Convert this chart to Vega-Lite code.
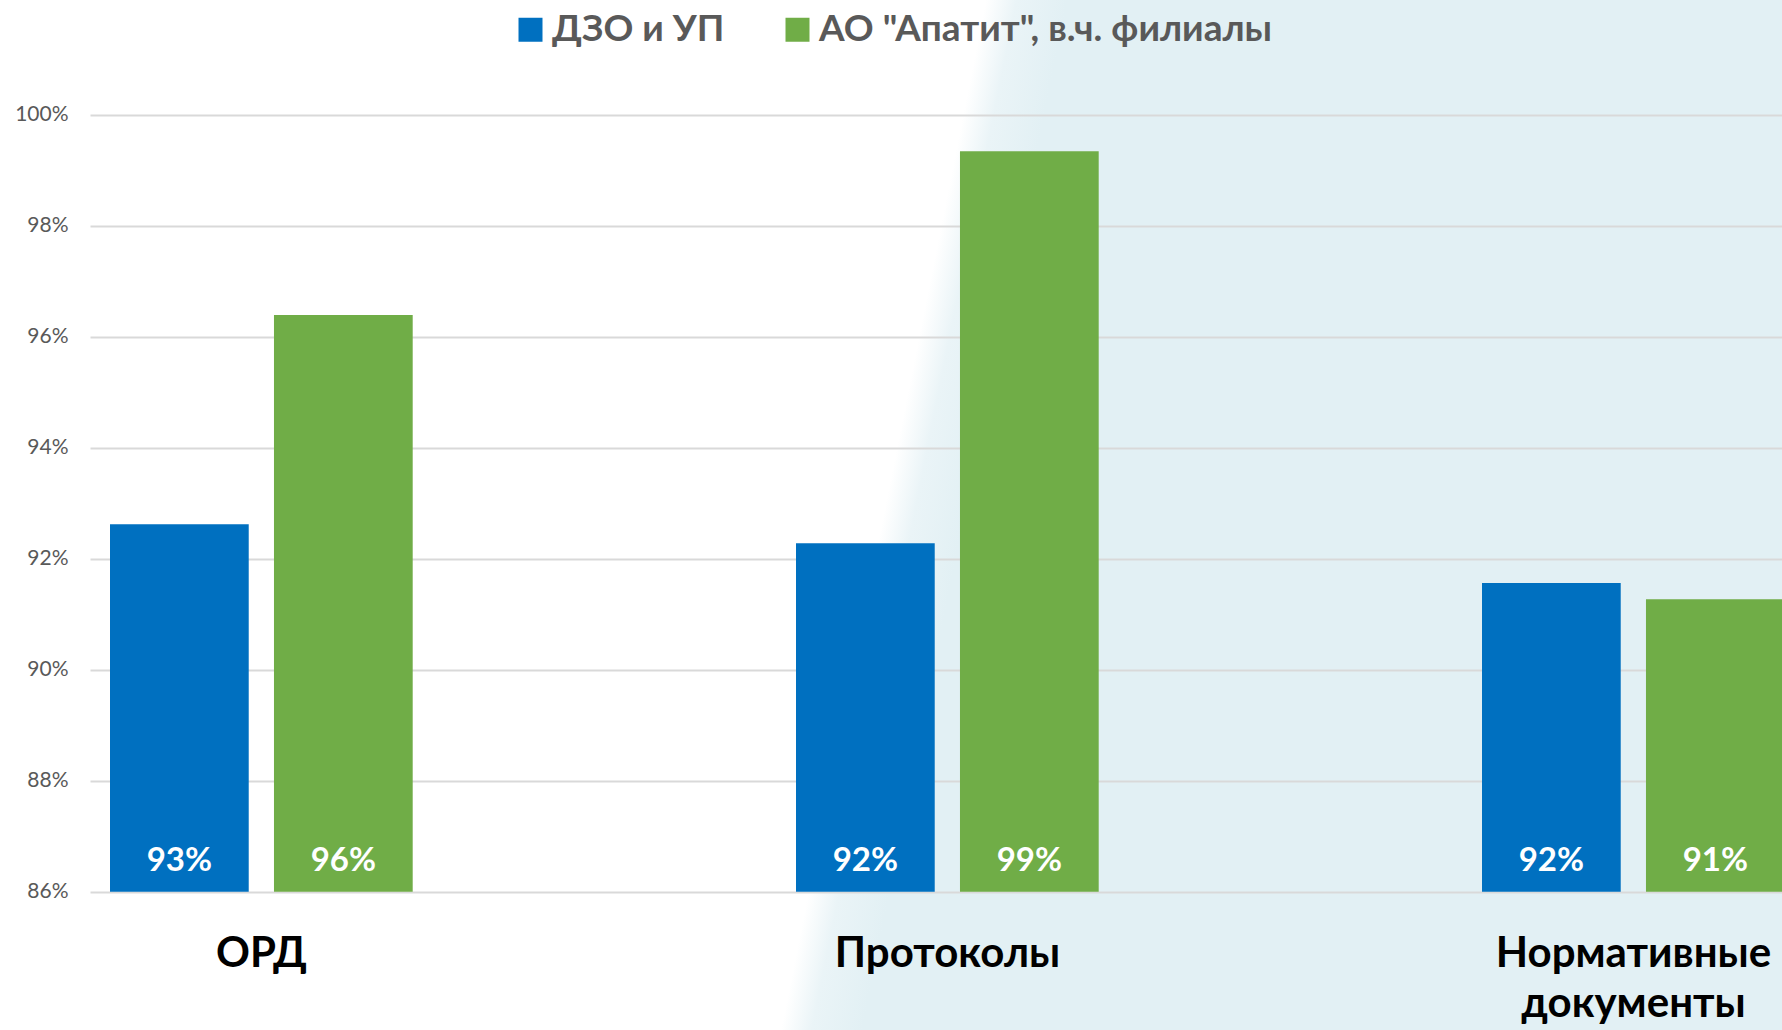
{
  "$schema": "https://vega.github.io/schema/vega-lite/v6.json",
  "width": 1782,
  "height": 1030,
  "autosize": {"type": "none"},
  "padding": 0,
  "background": "#FFFFFF",
  "view": {
    "stroke": null,
    "fill": {
      "gradient": "linear",
      "x1": 0, "y1": 0.45, "x2": 1, "y2": 0.565,
      "stops": [
        {"offset": 0, "color": "#FFFFFF"},
        {"offset": 0.495, "color": "#FFFFFF"},
        {"offset": 0.512, "color": "#EAF4F7"},
        {"offset": 0.54, "color": "#E2F0F4"},
        {"offset": 1, "color": "#E2F0F4"}
      ]
    }
  },
  "config": {"font": "Lato"},
  "data": {
    "values": [
      {"category": "ОРД", "series": "ДЗО и УП", "value": 0.9262},
      {"category": "ОРД", "series": "АО \"Апатит\", в.ч. филиалы", "value": 0.9639},
      {"category": "Протоколы", "series": "ДЗО и УП", "value": 0.9228},
      {"category": "Протоколы", "series": "АО \"Апатит\", в.ч. филиалы", "value": 0.9934},
      {"category": "Нормативные документы", "series": "ДЗО и УП", "value": 0.9156},
      {"category": "Нормативные документы", "series": "АО \"Апатит\", в.ч. филиалы", "value": 0.9127}
    ]
  },
  "encoding": {
    "x": {
      "field": "category",
      "type": "nominal",
      "sort": null,
      "scale": {"range": [90, 2148], "paddingInner": 0, "paddingOuter": 0},
      "axis": {
        "title": null,
        "orient": "bottom",
        "offset": -138.3,
        "labelOffset": -171.5,
        "domain": false,
        "ticks": false,
        "tickSize": 0,
        "grid": false,
        "labelAngle": 0,
        "labelAlign": "center",
        "labelFont": "Lato",
        "labelFontSize": 42,
        "labelFontWeight": "bold",
        "labelColor": "#000000",
        "labelPadding": 62,
        "labelBaseline": "middle",
        "labelLineHeight": 50,
        "labelLimit": 0,
        "labelOverlap": false,
        "labelExpr": "split(datum.label, ' ')"
      }
    },
    "xOffset": {
      "field": "series",
      "type": "nominal",
      "sort": ["ДЗО и УП", "АО \"Апатит\", в.ч. филиалы"],
      "scale": {"range": [20, 322.7], "paddingInner": 0.154, "paddingOuter": 0}
    },
    "y": {
      "field": "value",
      "type": "quantitative",
      "scale": {"domain": [0.86, 1.0], "range": [891.7, 114.7], "zero": false, "nice": false},
      "axis": {
        "title": null,
        "orient": "left",
        "offset": -90,
        "values": [0.86, 0.88, 0.9, 0.92, 0.94, 0.96, 0.98, 1.0],
        "format": ".0%",
        "domain": false,
        "ticks": false,
        "tickSize": 0,
        "grid": true,
        "gridColor": "#D9D9D9",
        "gridWidth": 2,
        "labelFont": "Lato",
        "labelFontSize": 21,
        "labelColor": "#595959",
        "labelPadding": 22
      }
    }
  },
  "layer": [
    {
      "mark": {"type": "bar"},
      "encoding": {
        "y2": {"datum": 0.86},
        "color": {
          "field": "series",
          "type": "nominal",
          "sort": ["ДЗО и УП", "АО \"Апатит\", в.ч. филиалы"],
          "scale": {"range": ["#0070C0", "#70AD47"]},
          "legend": {
            "orient": "none",
            "legendX": 512,
            "legendY": 11,
            "direction": "horizontal",
            "columns": 2,
            "title": null,
            "symbolType": "square",
            "symbolSize": 576,
            "symbolStrokeWidth": 0,
            "symbolOpacity": 1,
            "labelFont": "Lato",
            "labelFontSize": 37,
            "labelFontWeight": "bold",
            "labelColor": "#595959",
            "labelLimit": 1000,
            "labelOffset": 3,
            "columnPadding": 54,
            "padding": 0
          }
        }
      }
    },
    {
      "mark": {
        "type": "text",
        "color": "#FFFFFF",
        "font": "Lato",
        "fontSize": 33,
        "fontWeight": "bold",
        "align": "center",
        "baseline": "alphabetic",
        "dy": -21
      },
      "encoding": {
        "y": {"datum": 0.86, "type": "quantitative", "axis": {"title": null}},
        "text": {"field": "value", "type": "quantitative", "format": ".0%"}
      }
    }
  ]
}
